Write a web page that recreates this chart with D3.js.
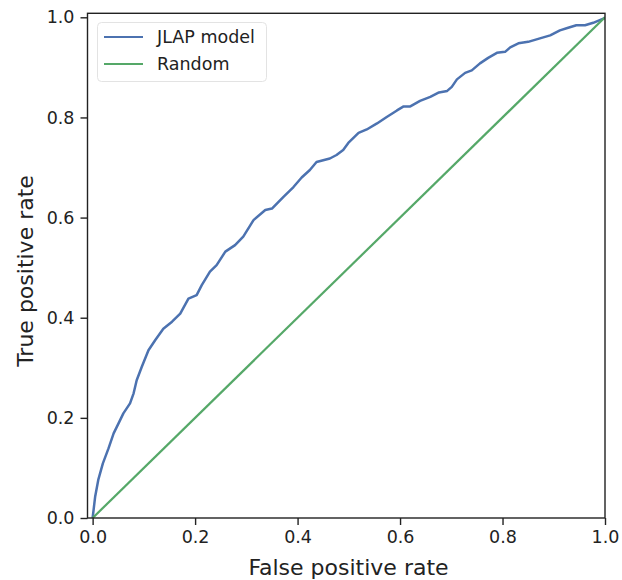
<!DOCTYPE html>
<html>
<head>
<meta charset="utf-8">
<script src="https://cdn.jsdelivr.net/npm/d3@7"></script>
<style>
    body { margin: 0; background: #fff; }
    text { font-family: "DejaVu Sans", sans-serif; fill: #222; }
</style>
</head>
<body>
<svg id="chart" width="622" height="580"></svg>
<script>
// ROC curve
var fpr = [0, 0.005, 0.011, 0.02, 0.031, 0.041, 0.052, 0.06, 0.073, 0.08, 0.086, 0.096,
    0.109, 0.122, 0.138, 0.155, 0.171, 0.187, 0.203, 0.213, 0.229, 0.242, 0.259, 0.278,
    0.294, 0.314, 0.337, 0.35, 0.372, 0.392, 0.408, 0.424, 0.437, 0.463, 0.476, 0.489,
    0.499, 0.519, 0.535, 0.555, 0.574, 0.594, 0.607, 0.62, 0.639, 0.659, 0.676, 0.692,
    0.701, 0.711, 0.727, 0.74, 0.756, 0.772, 0.789, 0.805, 0.815, 0.831, 0.85, 0.873,
    0.893, 0.912, 0.925, 0.944, 0.961, 0.977, 0.998, 1];
var tpr = [0, 0.043, 0.076, 0.109, 0.139, 0.169, 0.192, 0.209, 0.229, 0.249, 0.275, 0.302,
    0.335, 0.355, 0.378, 0.392, 0.408, 0.438, 0.445, 0.465, 0.492, 0.505, 0.532, 0.545,
    0.562, 0.595, 0.615, 0.618, 0.641, 0.661, 0.68, 0.695, 0.711, 0.718, 0.725, 0.735,
    0.749, 0.769, 0.776, 0.788, 0.801, 0.814, 0.822, 0.822, 0.833, 0.841, 0.85, 0.853,
    0.861, 0.876, 0.889, 0.894, 0.908, 0.919, 0.929, 0.931, 0.94, 0.948, 0.951, 0.958,
    0.964, 0.974, 0.978, 0.984, 0.984, 0.989, 0.998, 1];
var randomX = [0, 1];
var randomY = [0, 1];

var tickValues = [0, 0.2, 0.4, 0.6, 0.8, 1.0];
var legendNames = ["JLAP model", "Random"];
var colors = ["#4c72b0", "#55a868"];

var svg = d3.select("#chart");

var x = d3.scaleLinear().domain([-0.01, 1.0]).range([87.5, 605]);
var y = d3.scaleLinear().domain([0, 1.008]).range([518, 13.3]);

svg.append("defs").append("clipPath").attr("id", "clip")
    .append("rect")
    .attr("x", x(-0.01)).attr("y", y(1.008))
    .attr("width", x(1) - x(-0.01)).attr("height", y(0) - y(1.008));

var line = d3.line()
    .x(function (d) { return x(d[0]); })
    .y(function (d) { return y(d[1]); });

var roc = fpr.map(function (v, i) { return [v, tpr[i]]; });
var diag = randomX.map(function (v, i) { return [v, randomY[i]]; });

var plot = svg.append("g").attr("clip-path", "url(#clip)");
plot.append("path")
    .datum(roc)
    .attr("d", line)
    .attr("fill", "none")
    .attr("stroke", colors[0])
    .attr("stroke-width", 2.5)
    .attr("stroke-linejoin", "round");
plot.append("path")
    .datum(diag)
    .attr("d", line)
    .attr("fill", "none")
    .attr("stroke", colors[1])
    .attr("stroke-width", 2.2);

// Axes
var xAxis = svg.append("g")
    .attr("transform", "translate(0," + y(0) + ")")
    .call(d3.axisBottom(x).tickValues(tickValues).tickFormat(d3.format(".1f")).tickSize(7).tickPadding(6));
var yAxis = svg.append("g")
    .attr("transform", "translate(" + x(-0.01) + ",0)")
    .call(d3.axisLeft(y).tickValues(tickValues).tickFormat(d3.format(".1f")).tickSize(7).tickPadding(6));

[xAxis, yAxis].forEach(function (a) {
    a.select(".domain").remove();
    a.selectAll(".tick line").attr("stroke", "#222").attr("stroke-width", 1.4);
    a.selectAll(".tick text").attr("font-size", 17.5).attr("fill", "#222")
        .attr("font-family", "DejaVu Sans");
});

// Frame (all four spines)
svg.append("rect")
    .attr("x", x(-0.01)).attr("y", y(1.008))
    .attr("width", x(1) - x(-0.01)).attr("height", y(0) - y(1.008))
    .attr("fill", "none")
    .attr("stroke", "#222")
    .attr("stroke-width", 1.4);

// Axis labels
svg.append("text")
    .attr("x", 348.5)
    .attr("y", 575)
    .attr("text-anchor", "middle")
    .attr("font-size", 22)
    .text("False positive rate");
svg.append("text")
    .attr("transform", "translate(33,271) rotate(-90)")
    .attr("text-anchor", "middle")
    .attr("font-size", 22)
    .text("True positive rate");

// Legend
var legend = svg.append("g");
legend.append("rect")
    .attr("x", 97.5).attr("y", 22.5)
    .attr("width", 169).attr("height", 59)
    .attr("rx", 4)
    .attr("fill", "#fff").attr("fill-opacity", 0.8)
    .attr("stroke", "#e3e3e3");
legendNames.forEach(function (name, i) {
    var ly = 37 + i * 27;
    legend.append("line")
        .attr("x1", 104).attr("x2", 143)
        .attr("y1", ly).attr("y2", ly)
        .attr("stroke", colors[i]).attr("stroke-width", 2.2);
    legend.append("text")
        .attr("x", 157).attr("y", ly)
        .attr("dy", "0.35em")
        .attr("font-size", 17.5)
        .text(name);
});
</script>
</body>
</html>
